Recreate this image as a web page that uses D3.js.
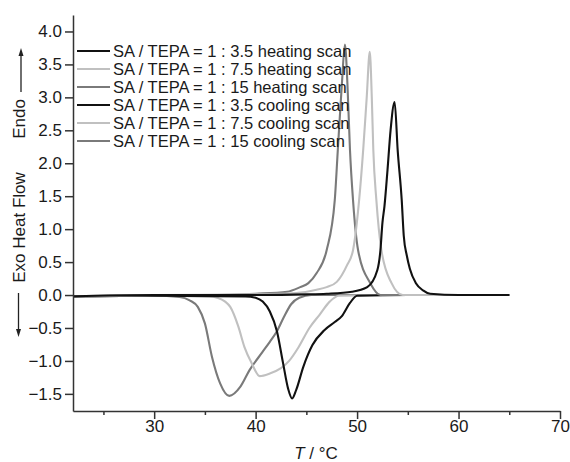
<!DOCTYPE html>
<html><head><meta charset="utf-8">
<script src="https://cdn.jsdelivr.net/npm/d3@7"></script>
<style>body{margin:0;background:#fff}svg{display:block}text{font-family:"Liberation Sans",Arial,sans-serif;fill:#1a1a1a}</style>
</head><body>
<svg id="c" width="570" height="462"></svg>
<script>
// Heating scans (T in °C, heat flow)
const heat35T = [22, 30, 40, 45, 47, 49.5, 51.0, 52.0, 52.3, 52.5, 52.7, 53.0, 53.3, 53.7, 54.0, 54.4, 54.6, 54.9, 55.2, 55.8, 56.5, 57.2, 60, 65];
const heat35V = [-0.02, 0, 0, 0.01, 0.02, 0.05, 0.12, 0.38, 0.68, 1.1, 1.35, 1.9, 2.5, 2.93, 2.2, 1.44, 0.9, 0.6, 0.4, 0.18, 0.07, 0.02, 0, 0];
const heat75T = [22, 30, 40, 44, 46, 47, 48.0, 49.0, 49.6, 50.2, 50.6, 50.95, 51.25, 51.45, 51.6, 51.9, 52.4, 53.4, 54.5, 58, 65];
const heat75V = [-0.02, 0, 0.01, 0.03, 0.08, 0.12, 0.2, 0.45, 0.68, 1.44, 2.2, 3.0, 3.69, 3.0, 2.2, 1.44, 0.68, 0.18, 0.0, 0, 0];
const heat15T = [22, 30, 35, 40, 43.1, 44.4, 45.2, 46.0, 47.0, 47.8, 48.1, 48.5, 48.8, 49.05, 49.3, 49.6, 50.1, 51.3, 52.3, 56, 65];
const heat15V = [-0.02, 0, 0, 0.02, 0.05, 0.12, 0.18, 0.33, 0.68, 1.44, 2.2, 3.2, 3.8, 3.2, 2.2, 1.44, 0.68, 0.18, 0.0, 0, 0];
// Cooling scans
const cool35T = [22, 30, 39, 40.0, 40.7, 41.4, 42.1, 42.7, 43.2, 43.6, 44.0, 44.7, 45.6, 46.8, 47.8, 48.5, 49.3, 50.0, 55, 65];
const cool35V = [-0.02, -0.01, -0.02, -0.04, -0.1, -0.25, -0.55, -1.03, -1.42, -1.57, -1.44, -1.09, -0.76, -0.53, -0.41, -0.32, -0.12, -0.01, 0, 0];
const cool75T = [22, 30, 35.5, 36.2, 37.0, 37.5, 38.3, 38.9, 39.6, 40.4, 41.4, 42.5, 43.3, 44.2, 45.3, 46.3, 47.3, 48.2, 55, 65];
const cool75V = [-0.02, -0.01, -0.02, -0.04, -0.1, -0.18, -0.48, -0.79, -1.03, -1.23, -1.19, -1.11, -1.0, -0.8, -0.5, -0.3, -0.1, -0.01, 0, 0];
const cool15T = [22, 30, 32.5, 33.5, 34.3, 35.0, 35.7, 36.5, 37.4, 38.5, 39.4, 40.7, 41.4, 42.1, 42.8, 43.5, 44.3, 45.5, 55, 65];
const cool15V = [-0.02, -0.01, -0.03, -0.08, -0.18, -0.43, -0.94, -1.34, -1.53, -1.39, -1.14, -0.86, -0.71, -0.55, -0.33, -0.14, -0.04, 0, 0, 0];

const seriesNames = ["SA / TEPA = 1 : 3.5 heating scan","SA / TEPA = 1 : 7.5 heating scan","SA / TEPA = 1 : 15 heating scan",
  "SA / TEPA = 1 : 3.5 cooling scan","SA / TEPA = 1 : 7.5 cooling scan","SA / TEPA = 1 : 15 cooling scan"];
const xTicks = [30, 40, 50, 60, 70];
const xMinorTicks = [25, 35, 45, 55, 65];
const yTicks = [-1.5, -1.0, -0.5, 0.0, 0.5, 1.0, 1.5, 2.0, 2.5, 3.0, 3.5, 4.0];

const colors = ["#111111", "#c0c0c0", "#7a7a7a", "#111111", "#c0c0c0", "#7a7a7a"];
const series = [[heat35T,heat35V],[heat75T,heat75V],[heat15T,heat15V],[cool35T,cool35V],[cool75T,cool75V],[cool15T,cool15V]];

const svg = d3.select("#c");
const x = d3.scaleLinear().domain([22, 70]).range([73, 560]);
const y = d3.scaleLinear().domain([-1.76, 4.25]).range([411, 15]);

const line = d3.line().x(d => x(d[0])).y(d => y(d[1])).curve(d3.curveMonotoneX);
[5,4,3,2,1,0].forEach(i => {
  const [T, V] = series[i];
  svg.append("path").datum(T.map((t, k) => [t, V[k]]))
    .attr("d", line).attr("fill", "none").attr("stroke", colors[i])
    .attr("stroke-width", 2.1).attr("stroke-linejoin", "round");
});

// axes
const fmt = d3.format(".1f");
svg.append("g").attr("transform", "translate(0,411)")
  .call(d3.axisBottom(x).tickValues(xTicks).tickSize(8).tickSizeOuter(0).tickPadding(1));
svg.append("g").attr("transform", "translate(0,411)")
  .call(d3.axisBottom(x).tickValues(xMinorTicks).tickSize(4).tickFormat("")).select(".domain").remove();
svg.append("g").attr("transform", "translate(73,0)")
  .call(d3.axisLeft(y).tickValues(yTicks).tickFormat(fmt).tickSize(8).tickSizeOuter(0).tickPadding(3));
svg.selectAll(".domain, .tick line").attr("stroke", "#333").attr("stroke-width", 1.5);
svg.selectAll(".tick text").style("font-size", "17px").attr("fill", "#1a1a1a");

// axis titles
const xt = svg.append("text").attr("x", 316).attr("y", 459).attr("text-anchor", "middle").style("font-size", "17px");
xt.append("tspan").style("font-style", "italic").text("T");
xt.append("tspan").text(" / °C");
svg.append("text").attr("transform", "translate(25,119) rotate(-90)").attr("text-anchor", "middle").style("font-size", "17px").text("Endo");
svg.append("text").attr("transform", "translate(25,227.5) rotate(-90)").attr("text-anchor", "middle").style("font-size", "17px").text("Exo Heat Flow");
// arrows
svg.append("line").attr("x1", 21).attr("x2", 21).attr("y1", 92).attr("y2", 54).attr("stroke", "#222").attr("stroke-width", 1.3);
svg.append("path").attr("d", "M21,48 L18.5,56 L23.5,56 Z").attr("fill", "#222");
svg.append("line").attr("x1", 18.5).attr("x2", 18.5).attr("y1", 293).attr("y2", 331).attr("stroke", "#222").attr("stroke-width", 1.3);
svg.append("path").attr("d", "M18.5,337 L16,329 L21,329 Z").attr("fill", "#222");

// legend
const leg = svg.append("g");
seriesNames.forEach((n, i) => {
  const ly = 51 + i * 18;
  leg.append("line").attr("x1", 77).attr("x2", 110).attr("y1", ly).attr("y2", ly).attr("stroke", colors[i]).attr("stroke-width", 2);
  leg.append("text").attr("x", 113).attr("y", ly + 5.5).style("font-size", "16.5px").text(n);
});
</script>
</body></html>
